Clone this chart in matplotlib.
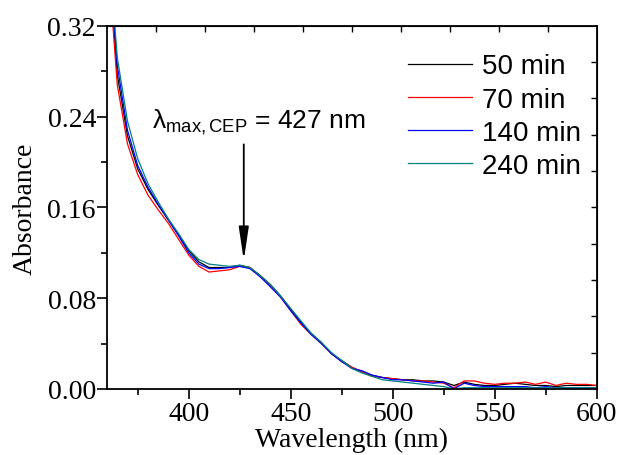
import numpy as np
import matplotlib
matplotlib.use('Agg')
from matplotlib import pyplot as plt

# wavelength grid (nm) and absorbance
wl = list(range(360, 601, 5))

a_50 = [0.400, 0.277, 0.223, 0.194, 0.176, 0.162, 0.149, 0.136, 0.122, 0.112,
        0.107, 0.107, 0.107, 0.109, 0.107, 0.100, 0.092, 0.082, 0.070, 0.059,
        0.049, 0.041, 0.031, 0.025, 0.019, 0.015, 0.012, 0.010, 0.009, 0.008,
        0.008, 0.007, 0.007, 0.006, 0.003, 0.006, 0.004, 0.003, 0.003, 0.004,
        0.005, 0.004, 0.003, 0.003, 0.002, 0.003, 0.003, 0.003, 0.003]
a_70 = [0.390, 0.268, 0.216, 0.189, 0.171, 0.158, 0.146, 0.132, 0.118, 0.108,
        0.103, 0.104, 0.105, 0.108, 0.107, 0.099, 0.091, 0.081, 0.069, 0.057,
        0.048, 0.040, 0.031, 0.024, 0.019, 0.015, 0.011, 0.010, 0.009, 0.008,
        0.007, 0.007, 0.006, 0.005, 0.001, 0.007, 0.007, 0.005, 0.004, 0.005,
        0.005, 0.006, 0.004, 0.006, 0.003, 0.005, 0.004, 0.004, 0.003]
a_140 = [0.405, 0.285, 0.228, 0.197, 0.178, 0.163, 0.149, 0.135, 0.120, 0.110,
         0.106, 0.106, 0.107, 0.108, 0.106, 0.099, 0.090, 0.081, 0.069, 0.058,
         0.048, 0.040, 0.031, 0.024, 0.018, 0.016, 0.012, 0.010, 0.008, 0.008,
         0.007, 0.006, 0.005, 0.006, 0.000, 0.005, 0.003, 0.002, 0.002, 0.002,
         0.002, 0.002, 0.001, 0.002, 0.001, 0.001, 0.001, 0.001, 0.001]
a_240 = [0.410, 0.292, 0.236, 0.203, 0.181, 0.165, 0.150, 0.137, 0.123, 0.114,
         0.110, 0.109, 0.108, 0.109, 0.107, 0.100, 0.092, 0.082, 0.071, 0.060,
         0.049, 0.041, 0.032, 0.025, 0.018, 0.014, 0.011, 0.008, 0.007, 0.006,
         0.005, 0.004, 0.003, 0.002, 0.000, 0.001, 0.001, 0.001, 0.001, 0.001,
         0.001, 0.001, 0.001, 0.001, 0.001, 0.001, 0.001, 0.001, 0.001]

labels = ['50 min', '70 min', '140 min', '240 min']
colors = ['black', '#ff0000', '#0000ff', '#008080']

plt.rcParams['mathtext.fontset'] = 'custom'
plt.rcParams['mathtext.rm'] = 'Liberation Sans'
plt.rcParams['mathtext.it'] = 'Liberation Sans:italic'

fig = plt.figure(figsize=(6.19, 4.56), dpi=100)
ax = fig.add_axes([0.173, 0.145, 0.791, 0.796])

for y, lab, c in zip([a_50, a_70, a_140, a_240], labels, colors):
    ax.plot(wl, y, color=c, lw=0.9, label=lab)

ax.set_xlim(360, 600)
ax.set_ylim(0, 0.32)
ax.set_xticks([400, 450, 500, 550, 600])
ax.set_xticks([375, 425, 475, 525, 575], minor=True)
ax.set_yticks([0, 0.08, 0.16, 0.24, 0.32])
ax.set_yticks([0.04, 0.12, 0.20, 0.28], minor=True)
ax.set_yticklabels(['0.00', '0.08', '0.16', '0.24', '0.32'])
ax.tick_params(which='major', direction='out', length=7, width=1.2,
               labelsize=20, pad=1)
ax.tick_params(which='minor', direction='out', length=4, width=1.2)
ax.tick_params(axis='x', which='major', pad=2)
for lbl in ax.get_xticklabels() + ax.get_yticklabels():
    lbl.set_fontfamily('Liberation Serif')
for s in ax.spines.values():
    s.set_linewidth(1.3)

# top / right axes with 10 divisions, ticks inward, no labels
top = ax.secondary_xaxis('top')
top.set_xticks([360 + 24 * k for k in range(1, 10)])
top.tick_params(direction='in', length=4, width=1.0, labeltop=False)
right = ax.secondary_yaxis('right')
right.set_yticks([0.032 * k for k in range(1, 10)])
right.tick_params(direction='in', length=4, width=1.0, labelright=False)

ax.set_xlabel('Wavelength (nm)', fontsize=20, family='Liberation Serif', labelpad=0)
ax.set_ylabel('Absorbance', fontsize=20, family='Liberation Serif', labelpad=7)

ax.text(382, 0.231, r'$\mathrm{\lambda}_{\mathrm{max,CEP}}$ = 427 nm',
        fontsize=19, family='Liberation Sans', ha='left', va='baseline')
ax.annotate('', xy=(427, 0.111), xytext=(427, 0.218),
            arrowprops=dict(arrowstyle='-|>,head_width=0.3,head_length=2.0',
                            color='black', lw=1.3))

ax.legend(loc='upper right', bbox_to_anchor=(0.99, 0.955), frameon=False,
          prop={'family': 'Liberation Sans', 'size': 20},
          handlelength=2.3, handletextpad=0.35, labelspacing=0.26,
          borderaxespad=0)

fig.savefig('out.png', dpi=100)
